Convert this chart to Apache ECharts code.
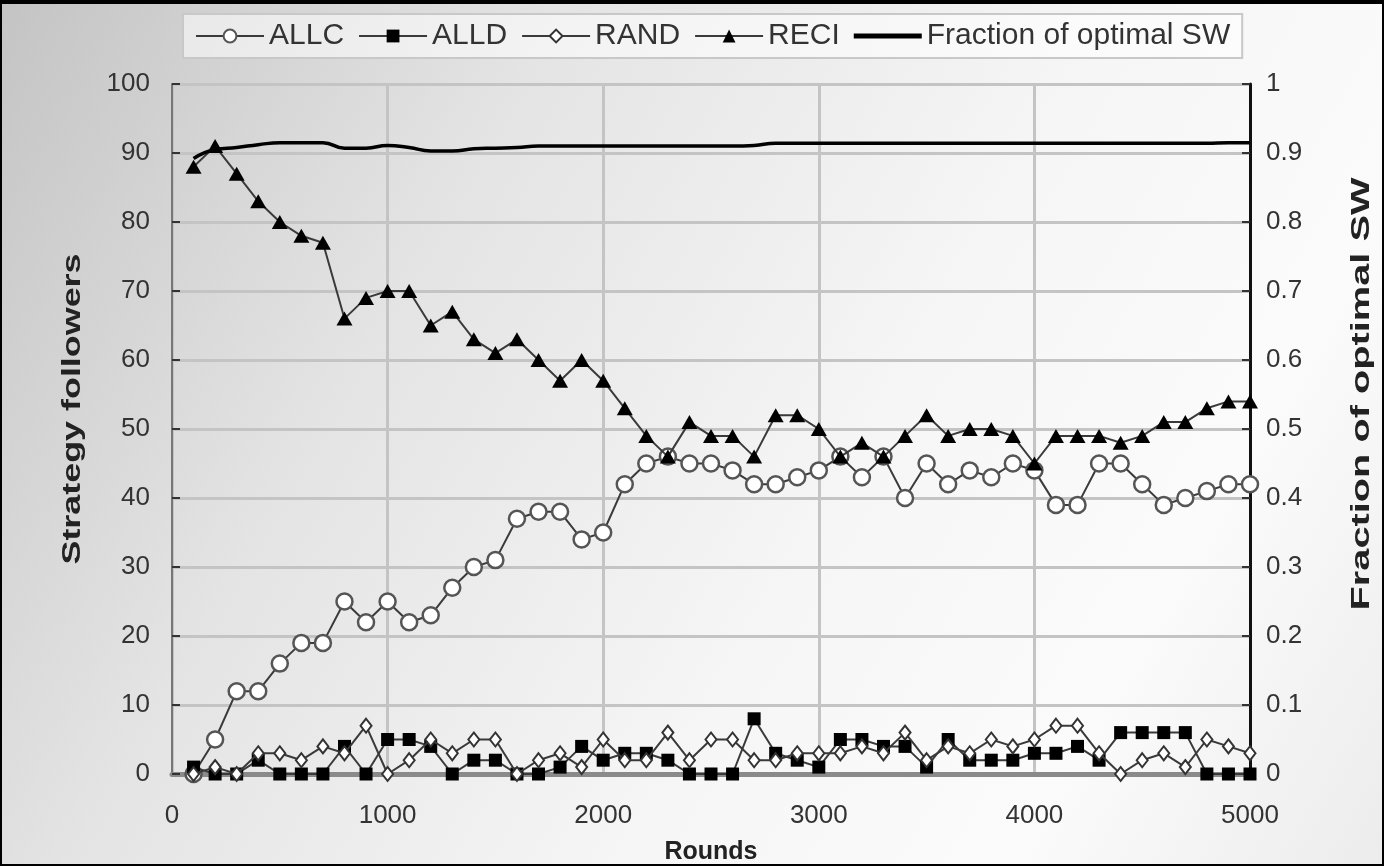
<!DOCTYPE html>
<html><head><meta charset="utf-8">
<script src="https://cdn.jsdelivr.net/npm/echarts@6/dist/echarts.min.js"></script>
<style>
html,body{margin:0;padding:0;}
#wrap{width:1384px;height:866px;box-sizing:border-box;border:2px solid #000;border-top:4px solid #000;
background:linear-gradient(120deg,#c4c4c4 0%,#e4e4e4 30%,#f6f6f6 60%,#fbfbfb 80%,#ececec 100%);}
#chart{width:1380px;height:860px;}
</style></head>
<body><div id="wrap"><div id="chart"></div></div>
<script>
const rounds = [100,200,300,400,500,600,700,800,900,1000,1100,1200,1300,1400,1500,1600,1700,1800,1900,2000,2100,2200,2300,2400,2500,2600,2700,2800,2900,3000,3100,3200,3300,3400,3500,3600,3700,3800,3900,4000,4100,4200,4300,4400,4500,4600,4700,4800,4900,5000];
const allc = [0,5,12,12,16,19,19,25,22,25,22,23,27,30,31,37,38,38,34,35,42,45,46,45,45,44,42,42,43,44,46,43,46,40,45,42,44,43,45,44,39,39,45,45,42,39,40,41,42,42];
const alld = [1,0,0,2,0,0,0,4,0,5,5,4,0,2,2,0,0,1,4,2,3,3,2,0,0,0,8,3,2,1,5,5,4,4,1,5,2,2,2,3,3,4,2,6,6,6,6,0,0,0];
const rand = [0,1,0,3,3,2,4,3,7,0,2,5,3,5,5,0,2,3,1,5,2,2,6,2,5,5,2,2,3,3,3,4,3,6,2,4,3,5,4,5,7,7,3,0,2,3,1,5,4,3];
const reci = [88,91,87,83,80,78,77,66,69,70,70,65,67,63,61,63,60,57,60,57,53,49,46,51,49,49,46,52,52,50,46,48,46,49,52,49,50,50,49,45,49,49,49,48,49,51,51,53,54,54];
const sw = [0.892,0.905,0.908,0.912,0.915,0.915,0.915,0.907,0.907,0.911,0.908,0.903,0.903,0.906,0.907,0.908,0.910,0.910,0.910,0.910,0.910,0.910,0.910,0.910,0.910,0.910,0.911,0.914,0.914,0.914,0.914,0.914,0.914,0.914,0.914,0.914,0.914,0.914,0.914,0.914,0.914,0.914,0.914,0.914,0.914,0.914,0.914,0.914,0.915,0.915];
const leftTicks = {min:0,max:100,interval:10};
const rightTicks = {min:0,max:1,interval:0.1};
const xTicks = {min:0,max:5000,interval:1000};
const titles = {x:'Rounds', left:'Strategy followers', right:'Fraction of optimal SW'};

const FONT = '"Liberation Sans",Arial,sans-serif';
const pair = a => rounds.map((r,i)=>[r,a[i]]);
const chart = echarts.init(document.getElementById('chart'), null, {renderer:'canvas'});
const lineStyle = {color:'#3a3a3a', width:2};
chart.setOption({
  animation:false,
  textStyle:{fontFamily:FONT},
  legend:{
    top:10, left:181, height:46,
    padding:[7,12], itemGap:14, itemWidth:68, itemHeight:16,
    backgroundColor:'rgba(255,255,255,0.55)', borderColor:'#c8c8c8', borderWidth:2,
    textStyle:{fontFamily:FONT,fontSize:30,color:'#333'},
    data:['ALLC','ALLD','RAND','RECI',
      {name:'Fraction of optimal SW', icon:'path://M0,0L70,0L70,5L0,5Z', itemStyle:{color:'#000'}}],
    symbolKeepAspect:true
  },
  grid:{left:170, right:132, top:80, bottom:90, show:false, outerBoundsMode:'none', containLabel:false},
  graphic:[
    {type:'text', x:71, y:405, rotation:Math.PI/2, scaleX:1.38, scaleY:1,
     style:{text:titles.left, font:'bold 26px "Liberation Sans", Arial, sans-serif', fill:'#222', align:'center', verticalAlign:'middle'}},
    {type:'text', x:1360, y:390, rotation:Math.PI/2, scaleX:1.42, scaleY:0.95,
     style:{text:titles.right, font:'bold 28px "Liberation Sans", Arial, sans-serif', fill:'#222', align:'center', verticalAlign:'middle'}}
  ],
  xAxis:{type:'value', min:xTicks.min, max:xTicks.max, interval:xTicks.interval,
    axisLine:{show:true, lineStyle:{color:'#8a8a8a', width:5}},
    axisTick:{show:false},
    axisLabel:{fontFamily:FONT, fontSize:26, color:'#333', margin:29, formatter:v=>String(v)},
    splitLine:{show:true, lineStyle:{color:'#c4c4c4', width:3}},
    name:titles.x, nameLocation:'middle', nameGap:66,
    nameTextStyle:{fontFamily:FONT, fontSize:25, fontWeight:'bold', color:'#222'}
  },
  yAxis:[
    {type:'value', min:leftTicks.min, max:leftTicks.max, interval:leftTicks.interval, position:'left',
     axisLine:{show:true, lineStyle:{color:'#777', width:2}},
     axisTick:{show:true, inside:true, length:8, lineStyle:{color:'#333', width:2}},
     axisLabel:{fontFamily:FONT, fontSize:26, color:'#333', margin:22},
     splitLine:{show:true, lineStyle:{color:'#c4c4c4', width:3}}
    },
    {type:'value', min:rightTicks.min, max:rightTicks.max, interval:rightTicks.interval, position:'right',
     axisLine:{show:true, lineStyle:{color:'#111', width:3}},
     axisTick:{show:true, inside:true, length:8, lineStyle:{color:'#333', width:2}},
     axisLabel:{fontFamily:FONT, fontSize:26, color:'#333', margin:16},
     splitLine:{show:false}
    }
  ],
  series:[
    {name:'ALLC', type:'line', data:pair(allc), yAxisIndex:0, symbol:'circle', symbolSize:16,
     lineStyle:lineStyle, itemStyle:{color:'#fff', borderColor:'#555', borderWidth:2.5}, z:3},
    {name:'ALLD', type:'line', data:pair(alld), yAxisIndex:0, symbol:'rect', symbolSize:13,
     lineStyle:lineStyle, itemStyle:{color:'#000', borderColor:'#000', borderWidth:0}, z:4},
    {name:'RAND', type:'line', data:pair(rand), yAxisIndex:0, symbol:'diamond', symbolSize:[11,14],
     lineStyle:lineStyle, itemStyle:{color:'#fff', borderColor:'#333', borderWidth:2}, z:5},
    {name:'RECI', type:'line', data:pair(reci), yAxisIndex:0, symbol:'triangle', symbolSize:[16,14],
     lineStyle:lineStyle, itemStyle:{color:'#000', borderColor:'#000', borderWidth:0}, z:6},
    {name:'Fraction of optimal SW', type:'line', data:pair(sw), yAxisIndex:1, symbol:'none', smooth:true,
     lineStyle:{color:'#000', width:3.5}, itemStyle:{color:'#000'}, z:7}
  ]
});
</script></body></html>
